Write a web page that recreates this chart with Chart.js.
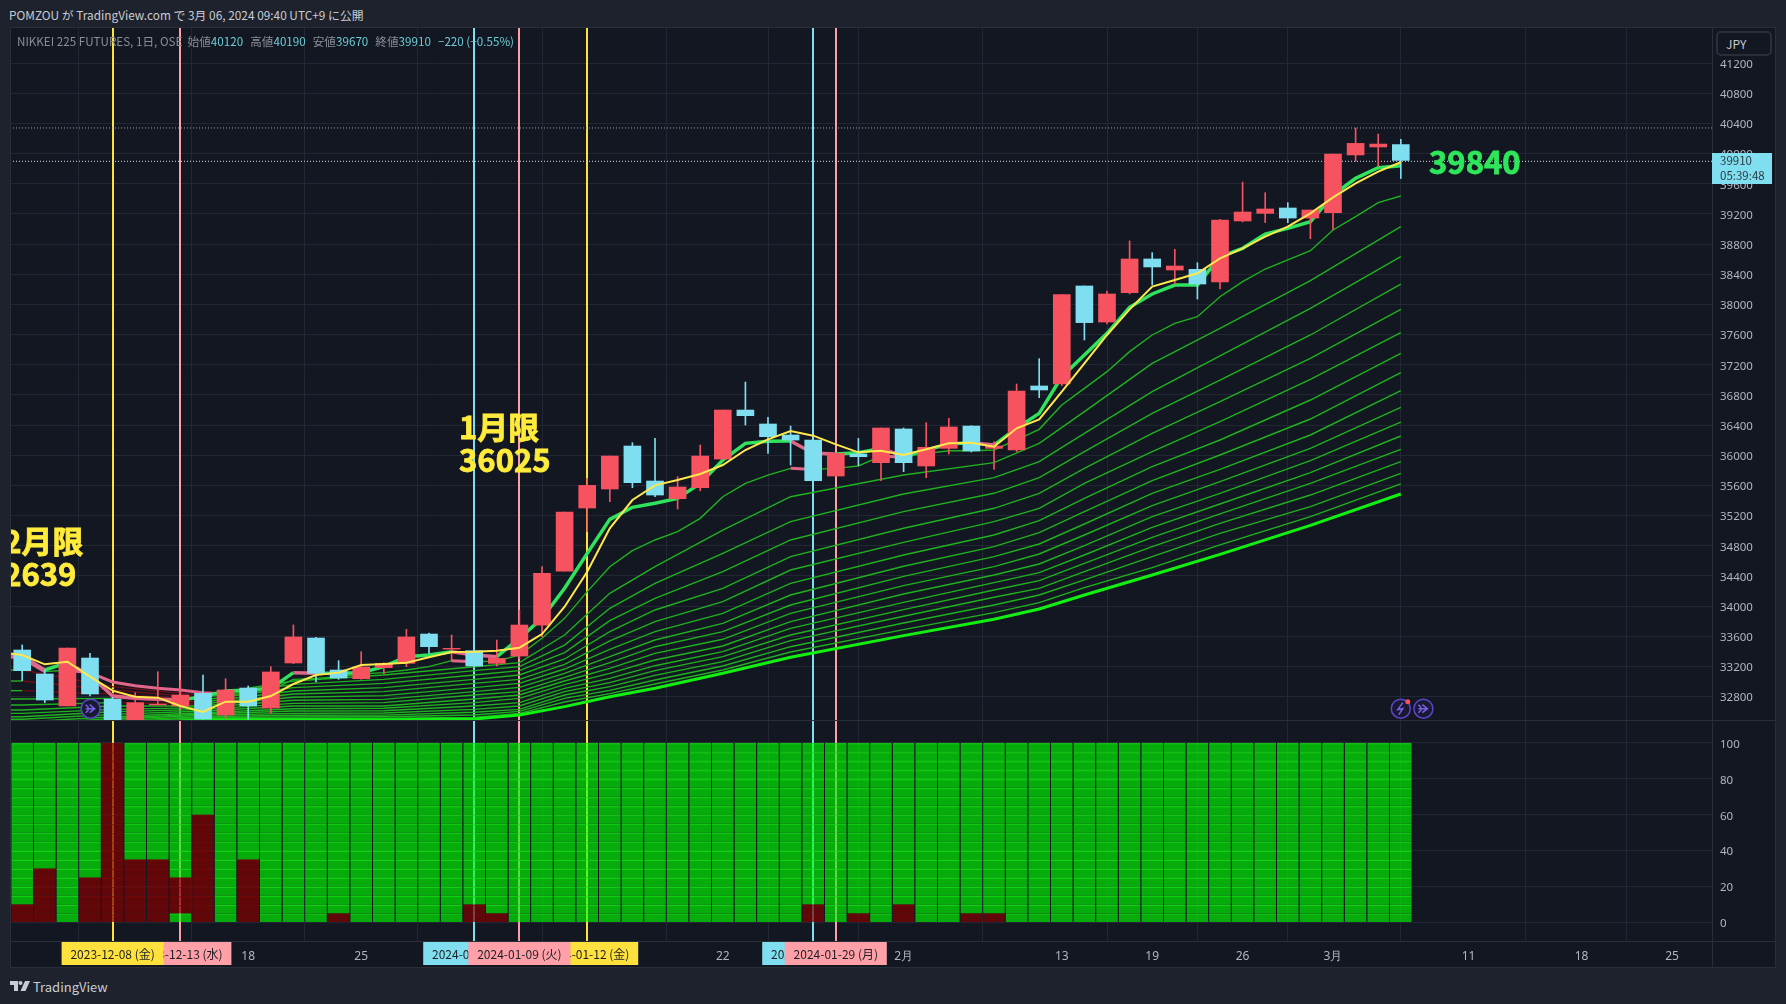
<!DOCTYPE html>
<html lang="ja">
<head>
<meta charset="utf-8">
<title>NIKKEI 225 FUTURES</title>
<script src="https://cdn.jsdelivr.net/npm/chart.js@4"></script>
<style>
    html, body { margin: 0; padding: 0; width: 1786px; height: 1004px; overflow: hidden; background: #1e222d; }
    body, div, span { font-family: "Noto Sans CJK JP", "Noto Sans", sans-serif; }
    .abs { position: absolute; white-space: nowrap; }
    #frame { left: 10px; top: 27px; width: 1766px; height: 941px; background: #131722; }
    canvas { position: absolute; }
    .rule { position: absolute; background: #2a2e39; }
    #published { left: 9px; top: 6px; font-size: 11.85px; line-height: 18px; color: #c9ccd4; }
    #legend { left: 17px; top: 32px; font-size: 11.65px; line-height: 18px; color: #8a8e98; }
    #legend b { font-weight: normal; color: #6ccbd6; margin-right: 7px; }
    #jpy { left: 1716px; top: 31px; width: 56px; height: 25px; background: #131722; border: 2px solid #2a2e39; border-radius: 5px;
           box-sizing: border-box; font-size: 12px; line-height: 22px; color: #c4c7cf; padding-left: 8px; }
    #lastPrice { left: 1712px; top: 153px; width: 60px; height: 31px; background: #7fdeef; color: #2d3a40; font-size: 11.5px;
                 line-height: 15px; padding: 0 0 0 8px; box-sizing: border-box; }
    #brand { left: 33px; top: 977px; font-size: 13px; line-height: 20px; color: #c9ccd4; }
    #logo { left: 10px; top: 981px; }
</style>
</head>
<body>
<div class="abs" id="frame"></div>
<canvas id="priceChart" width="1766" height="693" style="left:10px;top:27px;width:1766px;height:693px"></canvas>
<canvas id="trendChart" width="1766" height="248" style="left:10px;top:720px;width:1766px;height:248px"></canvas>
<div class="rule" style="left:10px;top:720px;width:1766px;height:1px"></div>
<div class="rule" style="left:10px;top:941px;width:1766px;height:1px"></div>
<div class="rule" style="left:1712px;top:27px;width:1px;height:941px"></div>
<div class="rule" style="left:10px;top:27px;width:1766px;height:1px"></div>
<div class="rule" style="left:10px;top:967px;width:1766px;height:1px"></div>
<div class="rule" style="left:10px;top:27px;width:1px;height:941px"></div>
<div class="rule" style="left:1775px;top:27px;width:1px;height:941px"></div>

<div class="abs" id="published">POMZOU が TradingView.com で 3月 06, 2024 09:40 UTC+9 に公開</div>
<div class="abs" id="legend">NIKKEI 225 FUTURES, 1日, OSE&nbsp;&nbsp;始値<b>40120</b>高値<b>40190</b>安値<b>39670</b>終値<b>39910</b><b>−220 (−0.55%)</b></div>
<div class="abs" id="jpy">JPY</div>
<div class="abs" id="lastPrice">39910<br>05:39:48</div>
<svg class="abs" id="logo" width="20" height="11" viewBox="0 0 20 11">
    <path fill="#c9ccd4" d="M0 0h8v10H4V4H0z"/><circle fill="#c9ccd4" cx="10.5" cy="2" r="2"/><path fill="#c9ccd4" d="M15 0h5l-4.500 10H10.500z"/>
</svg>
<div class="abs" id="brand">TradingView</div>

<script>
// Candles, one per trading day
const opens = [33418,33100,32676,33312,32768,32450,32690,32676,32844,32556,32914,32649,33246,33577,33153,33038,33184,33241,33630,33430,33409,33241,33338,33749,34465,35301,35553,36123,35659,35424,35570,35950,36600,36415,36269,36202,35725,36017,35902,36349,35858,36092,36388,36092,36070,36919,36945,38245,37767,38156,38603,38457,38466,38298,39107,39208,39279,39146,39217,39982,40088,40120];
const highs = [33485,33153,33445,33374,32790,32852,33131,33020,33087,33038,32941,33197,33750,33586,33277,33396,33250,33692,33644,33617,33420,33550,33948,34523,35248,35694,35990,36167,36225,35716,36136,36600,36971,36503,36388,36202,36026,36224,36362,36362,36433,36490,36392,36181,36945,37281,38130,38245,38179,38842,38687,38731,38554,39130,39623,39482,39350,39252,39995,40340,40260,40190];
const lows = [33012,32720,32676,32808,32400,32400,32690,32640,32500,32503,32499,32578,33237,32994,33029,33029,33100,33197,33374,33268,33200,33206,33300,33595,34465,34987,35385,35570,35451,35287,35530,35950,36401,36026,35871,35663,35725,35862,35663,35783,35703,36017,36044,35814,36048,36764,36923,37529,37741,38139,38258,38271,38072,38205,39094,39085,39085,38872,38987,39898,39836,39670];
const closes = [33144,32755,33445,32835,32450,32720,32700,32821,32503,32888,32676,33127,33591,33109,33047,33193,33241,33591,33462,33440,33206,33307,33749,34434,35248,35601,35990,35637,35473,35579,35990,36600,36525,36247,36202,35663,36026,35981,36362,35902,36106,36375,36057,36123,36853,36866,38130,37759,38139,38603,38497,38510,38271,39120,39226,39266,39146,39252,39995,40136,40127,39910];

// Fast lines, one value per day (first value is the day before the first candle, at the left edge)
const yellowLine = [33390,33352,33228,33263,33065,32879,32799,32786,32676,32596,32733,32733,32808,32967,33087,33118,33219,33233,33250,33321,33392,33396,33409,33449,33630,33992,34456,35031,35407,35601,35672,35752,35871,36070,36211,36322,36260,36145,36039,36061,36004,36079,36159,36167,36114,36358,36477,36844,37219,37595,37935,38236,38324,38413,38612,38744,38899,39031,39208,39420,39606,39761,39885];
const fastLine = [33375,33339,33153,33250,33080,32808,32777,32764,32755,32800,32875,32888,32910,33118,33109,33109,33118,33197,33330,33352,33396,33352,33330,33572,33838,34236,34700,35150,35310,35363,35429,35628,35937,36158,36185,36189,36026,36017,36034,36092,35990,36070,36150,36167,36136,36358,36556,37043,37330,37617,37962,38139,38258,38258,38634,38744,38934,39009,39098,39451,39672,39814,39840];
const ribbon1 = [33340,33308,33131,33150,33118,32994,32945,32910,32888,32852,32835,32835,32888,33029,33042,33065,33100,33118,33153,33197,33277,33263,33270,33352,33573,33838,34192,34523,34735,34877,34987,35164,35451,35628,35738,35827,35813,35827,35858,35990,35975,36026,36061,36061,36070,36203,36344,36667,36888,37109,37374,37595,37750,37838,38103,38302,38470,38590,38713,38987,39164,39350,39438];

// Slower ribbon, read at these days only
const ribbonDays = [-1,0,4,8,12,16,20,22,24,26,28,31,34,39,43,45,47,50,53,57,61];
const ribbon2 = [33153,33153,32932,32817,33007,33087,33197,33250,33617,34170,34523,35009,35451,35739,35902,36159,36579,37219,37683,38316,39032];
const ribbon3 = [33007,33007,32888,32786,32963,33029,33144,33197,33484,33971,34302,34700,35120,35487,35704,35916,36291,36844,37317,37949,38634];
const ribbon4 = [32879,32879,32835,32755,32919,32976,33087,33144,33383,33807,34103,34457,34877,35253,35496,35704,36048,36556,36998,37595,38271];
const ribbon5 = [32768,32768,32777,32729,32875,32919,33029,33087,33299,33661,33949,34236,34656,35032,35297,35496,35827,36291,36711,37286,37935];
const ribbon6 = [32689,32689,32720,32702,32835,32866,32976,33029,33228,33538,33794,34059,34479,34846,35120,35297,35628,36048,36446,37007,37626];
const ribbon7 = [32623,32623,32676,32676,32791,32813,32919,32976,33166,33427,33661,33904,34302,34678,34943,35133,35429,35849,36203,36733,37352];
const ribbon8 = [32578,32578,32631,32654,32751,32764,32866,32923,33109,33330,33551,33772,34147,34528,34789,34974,35253,35664,36004,36481,37096];
const ribbon9 = [32534,32534,32600,32631,32711,32720,32822,32866,33056,33250,33462,33661,34015,34395,34656,34824,35089,35496,35814,36269,36857];
const ribbon10 = [32499,32499,32565,32609,32676,32676,32769,32822,33007,33175,33374,33560,33904,34271,34523,34691,34943,35332,35650,36092,36636];
const ribbon11 = [32463,32463,32534,32587,32640,32645,32720,32777,32959,33109,33286,33471,33794,34161,34413,34559,34802,35186,35496,35929,36441];
const ribbon12 = [32428,32428,32512,32570,32609,32612,32676,32720,32910,33042,33210,33396,33705,34050,34311,34444,34678,35045,35354,35770,36256];
const ribbon13 = [32393,32393,32499,32552,32578,32582,32631,32676,32866,32985,33144,33330,33617,33953,34214,34338,34568,34912,35222,35628,36079];
const ribbon14 = [32357,32357,32481,32534,32552,32555,32592,32631,32822,32932,33082,33264,33542,33865,34117,34236,34457,34789,35098,35473,35916];
const ribbon15 = [32322,32322,32463,32521,32530,32533,32556,32605,32777,32883,33020,33206,33462,33776,34015,34148,34347,34656,34965,35319,35761];
const ribbon16 = [32287,32287,32446,32508,32512,32515,32525,32578,32729,32839,32967,33153,33392,33688,33913,34046,34245,34510,34811,35186,35620];
const slowLine = [32251,32251,32419,32490,32494,32494,32503,32556,32667,32799,32910,33109,33321,33609,33825,33962,34148,34413,34687,35071,35487];

// Lower pane: dark red part of each 0-100 column
const redBase = [0,0,0,0,0,0,0,5,0,0,0,0,0,0,0,0,0,0,0,0,0,0,0,0,0,0,0,0,0,0,0,0,0,0,0,0,0,0,0,0,0,0,0,0,0,0,0,0,0,0,0,0,0,0,0,0,0,0,0,0,0,0];
const redTop = [10,30,0,25,100,35,35,25,60,0,35,0,0,0,5,0,0,0,0,0,10,5,0,0,0,0,0,0,0,0,0,0,0,0,0,10,0,5,0,10,0,0,5,5,0,0,0,0,0,0,0,0,0,0,0,0,0,0,0,0,0,0];
const bandTops = [5,10,15,20,25,30,35,40,45,50,55,60,65,70,75,80,85,90,95,100];

// Axes
const priceTicks = [32800,33200,33600,34000,34400,34800,35200,35600,36000,36400,36800,37200,37600,38000,38400,38800,39200,39600,40000,40400,40800,41200];
const trendTicks = [0,20,40,60,80,100];
const dayTicks = [5,10,15,20,26,31,35,39,46,50,54,58,64,69,73];
const dayLabels = ['11','18','25','2024','15','22','29','2月','13','19','26','3月','11','18','25'];
const dottedLevels = [40340,39898];

// Vertical markers with their date tags, in draw order
const markerDays = [7,4,25,20,22,35,36];
const markerTags = ['2023-12-13 (水)','2023-12-08 (金)','2024-01-12 (金)','2024-01-04 (木)','2024-01-09 (火)','2024-01-26 (金)','2024-01-29 (月)'];
const markerColors = ['#ffa0a8','#ffe13d','#ffe13d','#7fdeef','#ffa0a8','#7fdeef','#ffa0a8'];

// Notes written on the chart
const noteTexts = ['12月限','32639','1月限','36025','39840'];
const noteDays = [-1.65,-1.65,19.33,19.33,62.25];
const notePrices = [34865,34425,36375,35938,39890];
const noteColors = ['#ffeb3b','#ffeb3b','#ffeb3b','#ffeb3b','#2ee65a'];

const eventDays = [3.03,61,62];
const eventKinds = ['arrow','bolt','arrow'];
const eventPrice = 32640;

const days = opens.map((o, i) => i);
const lineDays = [-1].concat(days);
const xMin = -0.54;
const xMax = 74.77;
const UP = '#f7525f';
const DOWN = '#7fdeef';
const GRID = '#232733';

function xScaleBase(showLabels) {
    return {
        type: 'linear', min: xMin, max: xMax, offset: false,
        grid: { color: GRID, drawTicks: false, lineWidth: 1 },
        border: { display: false },
        ticks: {
            display: showLabels, autoSkip: false, maxRotation: 0, color: '#b2b5be', padding: 8,
            font: { family: 'Noto Sans', size: 12 },
            callback: value => dayLabels[dayTicks.indexOf(value)]
        },
        afterBuildTicks: scale => { scale.ticks = dayTicks.map(d => ({ value: d })); },
        afterFit: scale => { scale.height = showLabels ? 27 : 0; }
    };
}

function yScaleBase(min, max, tickValues) {
    return {
        position: 'right', min: min, max: max,
        grid: { color: GRID, drawTicks: false, lineWidth: 1 },
        border: { display: false },
        ticks: {
            color: '#b2b5be', padding: 8, autoSkip: false,
            font: { family: 'Noto Sans', size: 11.5, lineHeight: '3px' },
            // empty first line nudges the label down a little
            callback: value => ['', String(value)]
        },
        afterBuildTicks: scale => { scale.ticks = tickValues.map(v => ({ value: v })); },
        afterFit: scale => { scale.width = 64; scale.paddingTop = 0; scale.paddingBottom = 0; }
    };
}

// vertical marker lines sit under the marks in both panes
const markerLines = {
    id: 'markerLines',
    beforeDatasetsDraw(chart) {
        const c = chart.ctx, a = chart.chartArea;
        c.save();
        c.lineWidth = 2;
        markerDays.forEach((d, i) => {
            const x = Math.round(chart.scales.x.getPixelForValue(d));
            c.strokeStyle = markerColors[i];
            c.beginPath();
            c.moveTo(x, a.top);
            c.lineTo(x, a.bottom);
            c.stroke();
        });
        c.restore();
    }
};

const chartNotes = {
    id: 'chartNotes',
    afterDatasetsDraw(chart) {
        const c = chart.ctx, a = chart.chartArea;
        c.save();
        c.beginPath();
        c.rect(a.left, a.top, a.right - a.left, a.bottom - a.top);
        c.clip();
        c.font = 'bold 31px "Noto Sans CJK JP"';
        c.textBaseline = 'middle';
        c.lineWidth = 0.8;
        noteTexts.forEach((t, i) => {
            const x = chart.scales.x.getPixelForValue(noteDays[i]);
            const y = chart.scales.y.getPixelForValue(notePrices[i]);
            c.fillStyle = noteColors[i];
            c.strokeStyle = noteColors[i];
            c.fillText(t, x, y);
            c.strokeText(t, x, y);
        });
        // small event icons
        eventDays.forEach((d, i) => {
            const x = chart.scales.x.getPixelForValue(d);
            const y = chart.scales.y.getPixelForValue(eventPrice);
            c.fillStyle = '#171a30';
            c.strokeStyle = '#5c45c8';
            c.lineWidth = 1.5;
            c.beginPath();
            c.arc(x, y, 9.5, 0, Math.PI * 2);
            c.fill();
            c.stroke();
            c.strokeStyle = '#7b61e8';
            c.beginPath();
            if (eventKinds[i] === 'arrow') {
                c.moveTo(x - 5, y); c.lineTo(x + 4, y);
                c.moveTo(x - 1, y - 4); c.lineTo(x + 4, y); c.lineTo(x - 1, y + 4);
                c.moveTo(x - 5, y - 4); c.lineTo(x - 2, y - 1);
                c.moveTo(x - 5, y + 4); c.lineTo(x - 2, y + 1);
            } else {
                c.moveTo(x + 2, y - 6); c.lineTo(x - 3, y + 1); c.lineTo(x + 2, y); c.lineTo(x - 2, y + 6);
            }
            c.stroke();
            if (eventKinds[i] === 'bolt') {
                c.fillStyle = '#f7525f';
                c.beginPath();
                c.arc(x + 7, y - 7, 2.5, 0, Math.PI * 2);
                c.fill();
            }
        });
        c.restore();
    }
};

const dateTags = {
    id: 'dateTags',
    afterDraw(chart) {
        const c = chart.ctx, a = chart.chartArea;
        c.save();
        c.font = '12px "Noto Sans CJK JP"';
        c.textAlign = 'center';
        c.textBaseline = 'middle';
        markerDays.forEach((d, i) => {
            const x = chart.scales.x.getPixelForValue(d);
            c.fillStyle = markerColors[i];
            c.fillRect(x - 51, a.bottom, 102, 24);
            c.fillStyle = '#1d1f26';
            c.fillText(markerTags[i], x, a.bottom + 13);
        });
        c.restore();
    }
};

// Upper pane
const RIBBON = '#1fb21f';

function ribbonDataset(values, order) {
    return {
        type: 'line', data: ribbonDays.map((d, k) => ({ x: d, y: values[k] })),
        borderColor: RIBBON, borderWidth: 1.4, pointRadius: 0, tension: 0, order: order,
        segment: { borderColor: s => s.p1.parsed.y < s.p0.parsed.y ? '#6e0d16' : RIBBON }
    };
}

const ribbons = [ribbon2, ribbon3, ribbon4, ribbon5, ribbon6, ribbon7, ribbon8, ribbon9, ribbon10, ribbon11, ribbon12, ribbon13, ribbon14, ribbon15, ribbon16];

const priceDatasets = [
    { type: 'line', data: lineDays.map((d, k) => ({ x: d, y: yellowLine[k] })), borderColor: '#ffe84d', borderWidth: 2, pointRadius: 0, tension: 0, order: 0 },
    { type: 'bar', data: days.map(i => ({ x: i, y: [opens[i], closes[i]] })), grouped: false, barThickness: 17,
      backgroundColor: days.map(i => closes[i] >= opens[i] ? UP : DOWN), order: 1 },
    { type: 'bar', data: days.map(i => ({ x: i, y: [lows[i], highs[i]] })), grouped: false, barThickness: 1,
      backgroundColor: days.map(i => closes[i] >= opens[i] ? UP : DOWN), order: 2 },
    { type: 'line', data: lineDays.map((d, k) => ({ x: d, y: fastLine[k] })), borderColor: '#2fe35c', borderWidth: 3.5, pointRadius: 0, tension: 0, order: 3,
      segment: { borderColor: s => s.p1.parsed.y < s.p0.parsed.y ? '#e0668a' : '#2fe35c' } },
    { type: 'line', data: lineDays.map((d, k) => ({ x: d, y: ribbon1[k] })), borderColor: RIBBON, borderWidth: 1.4, pointRadius: 0, tension: 0, order: 4,
      segment: {
          borderColor: s => s.p1.parsed.y < s.p0.parsed.y ? '#e0668a' : RIBBON,
          borderWidth: s => s.p1.parsed.y < s.p0.parsed.y ? 3 : 1.4
      } }
];
ribbons.forEach((r, k) => priceDatasets.push(ribbonDataset(r, 5 + k)));
priceDatasets.push({ type: 'line', data: ribbonDays.map((d, k) => ({ x: d, y: slowLine[k] })), borderColor: '#12f012', borderWidth: 3, pointRadius: 0, tension: 0, order: 4.5 });
dottedLevels.forEach((v, k) => {
    priceDatasets.push({ type: 'line', data: [{ x: xMin, y: v }, { x: xMax, y: v }], borderColor: k === 0 ? '#9aa0aa' : '#d8dce2', borderWidth: 1,
        borderDash: [1, 2], pointRadius: 0, order: 30 });
});

new Chart(document.getElementById('priceChart'), {
    data: { datasets: priceDatasets },
    options: {
        responsive: false, animation: false, devicePixelRatio: 1,
        layout: { autoPadding: false, padding: 0 },
        plugins: { legend: { display: false }, tooltip: { enabled: false } },
        scales: { x: xScaleBase(false), y: yScaleBase(32490, 41679, priceTicks) }
    },
    plugins: [markerLines, chartNotes]
});

// Lower pane: twenty stacked bands per column
const trendDatasets = bandTops.map(top => {
    const isRed = i => top > redBase[i] && top <= redTop[i];
    return {
        type: 'bar', data: days.map(i => ({ x: i, y: [top - 5, top] })), grouped: false, barThickness: 21.6,
        backgroundColor: days.map(i => isRed(i) ? 'rgba(128,0,0,0.72)' : 'rgba(0,255,0,0.64)'),
        borderColor: days.map(i => isRed(i) ? 'rgba(120,10,10,0.8)' : 'rgba(30,210,30,0.8)'),
        borderWidth: { top: 1, left: 0, right: 0, bottom: 0 }, borderSkipped: false
    };
});

new Chart(document.getElementById('trendChart'), {
    data: { datasets: trendDatasets },
    options: {
        responsive: false, animation: false, devicePixelRatio: 1,
        layout: { autoPadding: false, padding: 0 },
        plugins: { legend: { display: false }, tooltip: { enabled: false } },
        scales: { x: xScaleBase(true), y: yScaleBase(-10.3, 112.8, trendTicks) }
    },
    plugins: [markerLines, dateTags]
});
</script>
</body>
</html>
